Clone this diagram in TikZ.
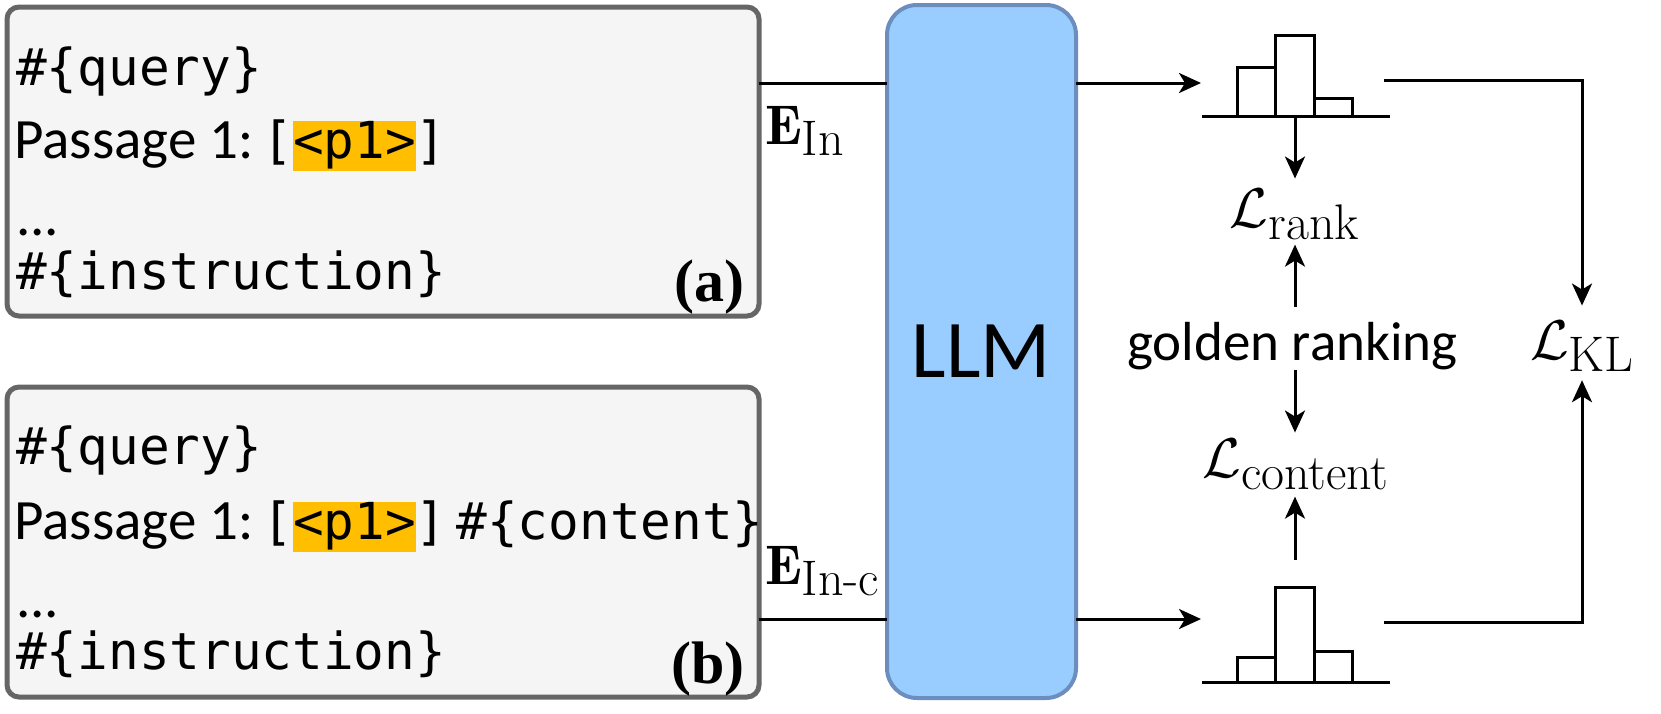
\documentclass[tikz,border=0pt]{standalone}
\usepackage{fix-cm}
\usepackage{fontspec}
\newfontfamily\comic{Carlito}
\newfontfamily\mono{DejaVu Sans Mono}
\newfontfamily\tnr{Liberation Serif}
\usetikzlibrary{arrows.meta}
\definecolor{boxfill}{HTML}{F5F5F5}
\definecolor{boxdraw}{HTML}{666666}
\definecolor{llmfill}{HTML}{99CCFF}
\definecolor{llmdraw}{HTML}{6C8EBF}
\definecolor{hl}{HTML}{FFBF00}
\newcommand\hlbox[1]{\begingroup\setlength{\fboxsep}{0pt}\colorbox{hl}{\rule[-12.5pt]{0pt}{49pt}#1}\endgroup}
\newcommand\lossL[1]{$\mathcal{L}$\raisebox{-12pt}{\fontsize{50}{50}\selectfont #1}}
\newcommand\embE[1]{$\mathbf{E}$\raisebox{-11pt}{\fontsize{50}{50}\selectfont #1}}
\tikzset{
  graybox/.style={draw=boxdraw, fill=boxfill, line width=5pt, rounded corners=12pt, inner sep=0pt, outer sep=0pt, anchor=north west},
  llmbox/.style={draw=llmdraw, fill=llmfill, line width=4pt, rounded corners=30pt, inner sep=0pt, outer sep=0pt, anchor=north west, font=\comic\fontsize{82}{90}\selectfont},
  conn/.style={line width=3pt},
  arr/.style={line width=3pt, -{Stealth[length=22pt,width=20pt,inset=6pt]}},
  hist/.style={line width=3pt},
  monotxt/.style={anchor=base west, inner sep=0pt, font=\mono\fontsize{51}{60}\selectfont},
  comictxt/.style={anchor=base west, inner sep=0pt, font=\comic\fontsize{57}{60}\selectfont},
  tag/.style={anchor=base west, inner sep=0pt, font=\tnr\bfseries\fontsize{60}{66}\selectfont},
  mathtxt/.style={inner sep=0pt, font=\fontsize{56}{60}\selectfont},
  goldtxt/.style={anchor=base, inner sep=0pt, font=\comic\fontsize{55}{60}\selectfont},
}
\begin{document}
\begin{tikzpicture}[x=1pt,y=-1pt]
\useasboundingbox (0,0) rectangle (1661,713);
% input boxes
\node[graybox, minimum width=752pt, minimum height=309pt] (boxa) at (7,7) {};
\node[graybox, minimum width=752pt, minimum height=310pt] (boxb) at (7,387) {};
% box a text
\node[monotxt] (qa) at (16,85) {\#\{query\}};
\node[comictxt] (pa) at (14,158.5) {Passage 1:\kern9pt{\mono\fontsize{51}{60}\selectfont[\hlbox{<p1>}]}};
\node[comictxt] (da) at (16,235) {...};
\node[monotxt] (ia) at (16,289) {\#\{instruction\}};
\node[tag] (taga) at (674,301) {(a)};
% box b text
\node[monotxt] (qb) at (16,464) {\#\{query\}};
\node[comictxt] (pb) at (14,539) {Passage 1:\kern9pt{\mono\fontsize{51}{60}\selectfont[\hlbox{<p1>}]\kern10pt\#\{content\}}};
\node[comictxt] (db) at (16,617) {...};
\node[monotxt] (ib) at (16,669.5) {\#\{instruction\}};
\node[tag] (tagb) at (671,683) {(b)};
% LLM
\node[llmbox, minimum width=189pt, minimum height=693pt] (llm) at (887,5) {LLM};
% rows
\coordinate (ya) at (0,83);
\coordinate (yb) at (0,619);
\draw[conn] (boxa.east |- ya) -- (llm.west |- ya);
\draw[conn] (boxb.east |- yb) -- (llm.west |- yb);
\node[mathtxt, anchor=base west] (ein) at (765,144) {\embE{In}};
\node[mathtxt, anchor=base west] (einc) at (765,584) {\embE{In-c}};
% histograms
\coordinate (h1in) at (1201,83);
\coordinate (h2in) at (1201,619);
\draw[arr] (llm.east |- ya) -- (h1in);
\draw[arr] (llm.east |- yb) -- (h2in);
\draw[hist] (1202,116.5) -- (1390,116.5);
\draw[hist] (1237,116.5) rectangle (1275,67.5);
\draw[hist] (1275,116.5) rectangle (1314,35.5);
\draw[hist] (1314,116.5) rectangle (1352,98.5);
\draw[hist] (1202,682) -- (1390,682);
\draw[hist] (1237,682) rectangle (1275,657);
\draw[hist] (1275,682) rectangle (1314,587);
\draw[hist] (1314,682) rectangle (1352,651);
\coordinate (h1c) at (1295,116.5);
\coordinate (h2c) at (1295,587);
% losses
\node[mathtxt, anchor=base] (lrank) at (1294.5,227) {\lossL{rank}};
\node[goldtxt] (gold) at (1292.5,360.5) {golden ranking};
\node[mathtxt, anchor=base] (lcont) at (1295.5,477) {\lossL{content}};
\node[mathtxt, anchor=base] (lkl) at (1582,359) {\lossL{KL}};
\draw[arr, shorten >=10pt] (h1c) -- (h1c |- lrank.north);
\draw[arr, shorten <=15pt, shorten >=5pt] (h1c |- gold.north) -- (h1c |- lrank.south);
\draw[arr, shorten >=6pt] (h1c |- gold.south) -- (h1c |- lcont.north);
\draw[arr, shorten <=27pt, shorten >=7pt] (h2c) -- (h2c |- lcont.south);
\coordinate (kla) at (1384,80);
\coordinate (klb) at (1384,622);
\draw[arr, shorten >=15pt] (kla) -| (lkl.north);
\draw[arr, shorten >=9pt] (klb) -| (lkl.south);
\end{tikzpicture}
\end{document}
